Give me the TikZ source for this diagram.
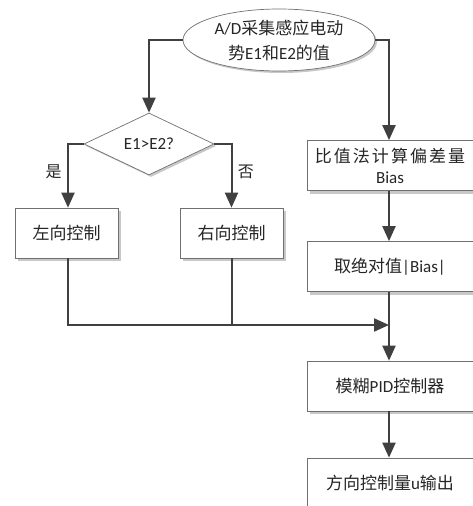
\documentclass[tikz,border=0pt]{standalone}
\usepackage{fontspec}
\setmainfont{Noto Sans CJK SC}
\newfontfamily\en{Carlito}
\usepackage{tikz}
\usetikzlibrary{arrows.meta, positioning, shapes.geometric, shadows}
\definecolor{LineGray}{HTML}{404040}
\definecolor{EdgeGray}{HTML}{707070}
\definecolor{ShadowGray}{HTML}{C8C8C8}

\begin{document}
\begin{tikzpicture}[x=1pt, y=-1pt,
    box/.style={rectangle, draw=EdgeGray, fill=white, line width=0.7pt, minimum width=103pt, minimum height=50pt, align=center, font=\fontsize{17}{23}\selectfont, text=black!85, general shadow={fill=ShadowGray, shadow xshift=3pt, shadow yshift=-3pt}},
    widebox/.style={box, minimum width=166pt},
    oval/.style={ellipse, draw=EdgeGray, fill=white, line width=0.7pt, minimum width=192pt, minimum height=62pt, inner sep=0pt, align=center, font=\fontsize{17}{25}\selectfont, text=black!85, general shadow={fill=ShadowGray, shadow xshift=2pt, shadow yshift=-2pt}},
    test/.style={diamond, draw=EdgeGray, fill=white, line width=0.7pt, minimum width=130pt, minimum height=62pt, inner sep=0pt, font=\fontsize{17}{20}\selectfont, text=black!85, general shadow={fill=ShadowGray, shadow xshift=2pt, shadow yshift=-2pt}},
    arrow/.style={-{Triangle[length=15pt, width=13pt]}, draw=LineGray, line width=2pt},
    link/.style={draw=LineGray, line width=2pt},
    tag/.style={font=\fontsize{16}{18}\selectfont, text=black!85}
]
\useasboundingbox (0,0) rectangle (472,506);

\node[oval] (read) at (279,40) {{\en A/D}采集感应电动\\势{\en E1}和{\en E2}的值};
\node[test] (cmp) at (149,144) {\en E1>E2?};
\node[box] (left) at (66.5,233) {左向控制};
\node[box] (right) at (231.5,233) {右向控制};
\node[widebox] (ratio) at (390,165.5) {{\addfontfeatures{LetterSpace=12}比值法计算偏差量}\\[-2pt]{\en Bias}};
\node[widebox] (abs) at (390,266.5) {取绝对值{\en |Bias|}};
\node[widebox] (pid) at (390,386) {模糊{\en PID}控制器};
\node[widebox] (out) at (390,483) {方向控制量{\en u}输出};
\coordinate (join) at (389,325);

\draw[arrow] (read.west) -| (cmp.north);
\draw[arrow] (read.east) -| ([xshift=-1pt]ratio.north);
\draw[arrow] (cmp.west) -| node[tag, pos=0.72, left=2pt] {是} ([xshift=1.5pt]left.north);
\draw[arrow] (cmp.east) -| node[tag, pos=0.72, right=2pt] {否} (right.north);
\draw[arrow] ([xshift=-1pt]ratio.south) -- ([xshift=-1pt]abs.north);
\draw[arrow] ([xshift=1.5pt]left.south) |- (join);
\draw[link] (right.south) -- (right.south |- join);
\draw[arrow] ([xshift=-1pt]abs.south) -- ([xshift=-1pt]pid.north);
\draw[arrow] ([xshift=-1pt]pid.south) -- ([xshift=-1pt]out.north);
\end{tikzpicture}
\end{document}
